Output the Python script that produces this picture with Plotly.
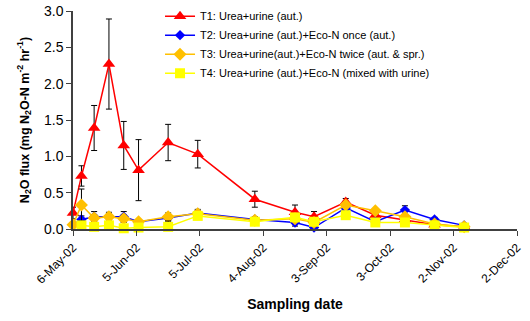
import plotly.graph_objects as go

dates = ["2002-05-06", "2002-05-10", "2002-05-16", "2002-05-23", "2002-05-30",
         "2002-06-06", "2002-06-20", "2002-07-04", "2002-07-31", "2002-08-19",
         "2002-08-28", "2002-09-12", "2002-09-26", "2002-10-10", "2002-10-24",
         "2002-11-07"]

t1 = [0.22, 0.73, 1.39, 2.27, 1.15, 0.81, 1.19, 1.03, 0.41, 0.23, 0.17, 0.37, 0.19, 0.13, 0.06, 0.03]
t1_err = [0.08, 0.14, 0.31, 0.62, 0.33, 0.42, 0.25, 0.19, 0.11, 0.10, 0.07, 0.05, 0.03, 0.02, 0.02, 0.01]

t2 = [0.06, 0.13, 0.17, 0.17, 0.17, 0.10, 0.15, 0.22, 0.13, 0.09, 0.02, 0.29, 0.10, 0.26, 0.13, 0.05]
t2_err = [0.02, 0.05, 0.07, 0.06, 0.07, 0.03, 0.04, 0.05, 0.04, 0.05, 0.04, 0.04, 0.03, 0.06, 0.03, 0.02]

t3 = [0.06, 0.33, 0.15, 0.17, 0.14, 0.10, 0.17, 0.21, 0.12, 0.14, 0.09, 0.33, 0.25, 0.17, 0.07, 0.03]
t3_err = [0.02, 0.22, 0.05, 0.04, 0.05, 0.03, 0.05, 0.04, 0.03, 0.03, 0.03, 0.04, 0.03, 0.03, 0.02, 0.01]

t4 = [None, 0.05, 0.03, 0.05, 0.01, 0.02, 0.03, 0.18, 0.10, 0.16, 0.10, 0.19, 0.09, 0.09, 0.05, 0.02]
t4_err = [0, 0.03, 0.03, 0.03, 0.02, 0.02, 0.08, 0.04, 0.03, 0.03, 0.03, 0.03, 0.02, 0.02, 0.02, 0.01]

names = ["T1: Urea+urine (aut.)",
         "T2: Urea+urine (aut.)+Eco-N once (aut.)",
         "T3: Urea+urine(aut.)+Eco-N twice (aut. & spr.)",
         "T4: Urea+urine (aut.)+Eco-N (mixed with urine)"]

tick_dates = ["2002-05-06", "2002-06-05", "2002-07-05", "2002-08-04", "2002-09-03",
              "2002-10-03", "2002-11-02", "2002-12-02"]
tick_labels = ["6-May-02", "5-Jun-02", "5-Jul-02", "4-Aug-02", "3-Sep-02",
               "3-Oct-02", "2-Nov-02", "2-Dec-02"]

y_ticks = [0.0, 0.5, 1.0, 1.5, 2.0, 2.5, 3.0]

series = [
    (t1, t1_err, "#FF0000", "triangle-up", 11),
    (t2, t2_err, "#0000FF", "diamond", 8),
    (t3, t3_err, "#FFC000", "diamond", 10),
    (t4, t4_err, "#FFFF00", "square", 10),
]

fig = go.Figure()
for (vals, err, color, sym, size), name in zip(series, names):
    fig.add_trace(go.Scatter(
        x=dates, y=vals, name=name, mode="lines+markers",
        line=dict(color=color, width=1.5),
        marker=dict(symbol=sym, size=size, color=color, line=dict(width=0)),
        error_y=dict(type="data", array=err, visible=True, color="black",
                     thickness=1, width=3),
        cliponaxis=False,
    ))

font = "Liberation Sans, Arial, sans-serif"
fig.update_layout(
    width=530, height=321,
    margin=dict(l=73, r=13, t=11, b=92, autoexpand=False),
    paper_bgcolor="white", plot_bgcolor="white",
    font=dict(family=font, color="black"),
    showlegend=True,
    legend=dict(x=0.196, y=1.043, xanchor="left", yanchor="top",
                font=dict(size=11, family=font), bgcolor="rgba(0,0,0,0)",
                tracegroupgap=0, itemwidth=30),
    xaxis=dict(
        type="date", automargin=False,
        range=["2002-05-06", "2002-12-02"],
        tickmode="array", tickvals=tick_dates, ticktext=tick_labels,
        tickangle=-45, tickfont=dict(size=12, family=font),
        showline=True, linecolor="#404040", linewidth=2,
        ticks="outside", ticklen=5, tickcolor="#404040",
        showgrid=False, zeroline=False,
        title=dict(text="<b>Sampling date</b>", font=dict(size=14, family=font), standoff=14),
    ),
    yaxis=dict(
        range=[0, 3], automargin=False,
        tickmode="array", tickvals=y_ticks, tickformat=".1f",
        tickfont=dict(size=14, family=font),
        showline=True, linecolor="#404040", linewidth=1.5,
        ticks="outside", ticklen=5, tickcolor="#404040",
        showgrid=False, zeroline=False,
        title=dict(text="<b>N<sub>2</sub>O flux (mg N<sub>2</sub>O-N m<sup>-2</sup> hr<sup>-1</sup>)</b>",
                   font=dict(size=12.5, family=font), standoff=12),
    ),
)

fig.write_html("out.html", config={"displayModeBar": False},
               post_script="document.body.style.margin='0';")
